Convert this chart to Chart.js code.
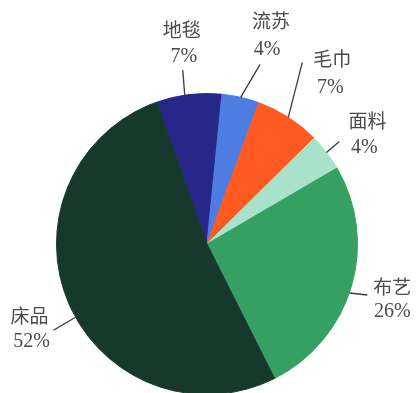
<!DOCTYPE html>
<html>
<head>
<meta charset="utf-8">
<script src="https://cdn.jsdelivr.net/npm/chart.js@4/dist/chart.umd.min.js"></script>
<style>
  html, body { margin: 0; padding: 0; background: #fff; overflow: hidden; }
  #wrap { position: relative; width: 416px; height: 400px; }
</style>
</head>
<body>
<div id="wrap"><canvas id="pieChart"></canvas></div>
<script>
// share of each product group, %
let categories = ["地毯", "流苏", "毛巾", "面料", "布艺", "床品"];
let shares = [7, 4, 7, 4, 26, 52];
let colors = ["#27278a", "#4d7de2", "#ff5a22", "#a8e2c8", "#36a063", "#17392b"];

// callout placement: angle nudge (deg), leader line vector, text offsets from line end
let callouts = [
  { shift: -1.6, dx: -2,   dy: -25, name: [-1, -38],  pct: [1, -13] },
  { shift: 0,    dx: 19.5, dy: -33, name: [11, -41],  pct: [7, -15] },
  { shift: 0,    dx: 14,   dy: -55, name: [30, -1],   pct: [28, 25] },
  { shift: 0,    dx: 13,   dy: -11, name: [28, -18],  pct: [25, 6] },
  { shift: 2.5,  dx: 18,   dy: 2,   name: [25, -6],   pct: [25, 17] },
  { shift: -6,   dx: -22,  dy: 13,  name: [-24, -12], pct: [-22, 12] }
];

let calloutPlugin = {
  id: "callouts",
  afterDatasetsDraw(chart) {
    let ctx = chart.ctx;
    let meta = chart.getDatasetMeta(0);
    ctx.save();
    meta.data.forEach((arc, i) => {
      let p = arc.getProps(["x", "y", "startAngle", "endAngle", "outerRadius"], true);
      let c = callouts[i];
      let mid = (p.startAngle + p.endAngle) / 2 + c.shift * Math.PI / 180;
      let sx = p.x + Math.cos(mid) * p.outerRadius;
      let sy = p.y + Math.sin(mid) * p.outerRadius;
      let ex = sx + c.dx, ey = sy + c.dy;

      ctx.strokeStyle = "#3a3a3a";
      ctx.lineWidth = 1.3;
      ctx.beginPath();
      ctx.moveTo(sx, sy);
      ctx.lineTo(ex, ey);
      ctx.stroke();

      ctx.fillStyle = "#4a4a4a";
      ctx.textAlign = "center";
      ctx.textBaseline = "middle";
      ctx.font = "19px 'Liberation Serif', 'Noto Sans CJK SC', serif";
      ctx.fillText(categories[i], ex + c.name[0], ey + c.name[1]);
      ctx.font = "20px 'Liberation Serif', serif";
      ctx.fillText(shares[i] + "%", ex + c.pct[0], ey + c.pct[1]);
    });
    ctx.restore();
  }
};

let chart = new Chart(document.getElementById("pieChart").getContext("2d"), {
  type: "pie",
  data: {
    labels: categories,
    datasets: [{
      data: shares,
      backgroundColor: colors,
      // same-colour border hides the hairline seams between slices
      borderColor: colors,
      borderWidth: 1
    }]
  },
  options: {
    responsive: true,
    maintainAspectRatio: false,
    animation: false,
    rotation: -19.5,
    layout: { padding: { left: 56, right: 58, top: 93, bottom: 5 } },
    plugins: {
      legend: { display: false },
      tooltip: { enabled: false }
    }
  },
  plugins: [calloutPlugin]
});
</script>
</body>
</html>
